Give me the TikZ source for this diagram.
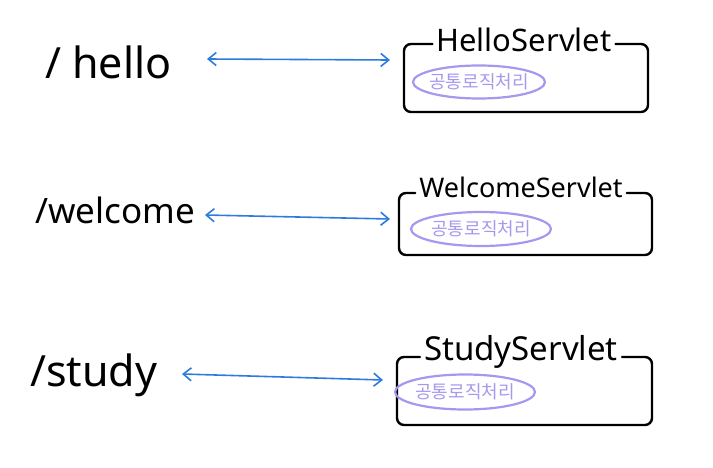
\documentclass[tikz,border=0pt]{standalone}
\usepackage{fontspec}
\setmainfont{Noto Sans}
\newfontfamily\kr{Noto Sans CJK KR}
\usetikzlibrary{arrows.meta,shapes.geometric}
\definecolor{arrowblue}{HTML}{2E7BE0}
\definecolor{lav}{HTML}{A797EE}
\tikzset{
  pathlbl/.style={anchor=west, inner sep=0pt},
  link/.style={draw=arrowblue, line width=1.6pt, {Straight Barb[length=8pt,width=13pt]}-{Straight Barb[length=8pt,width=13pt]}},
  title/.style={inner sep=4pt},
  frame/.style={draw=black, line width=2.4pt, rounded corners=7pt, line cap=round},
  common/.style={draw=lav, line width=2.2pt, ellipse, text=lav, font=\kr\fontsize{18}{20}\selectfont, minimum width=132pt, minimum height=33pt, inner xsep=-12pt, inner ysep=0pt}
}
\begin{document}
\begin{tikzpicture}[x=1pt,y=-1pt]
\useasboundingbox (0,0) rectangle (713,468);
% row 1
\node[pathlbl, font=\fontsize{43}{46}\selectfont] (p1) at (45,62) {/ hello};
\coordinate (a1l) at (207,59);
\coordinate (a1r) at (390,60);
\draw[link] (a1l) -- (a1r);
\node[title, font=\fontsize{31}{34}\selectfont] (t1) at (524,40) {HelloServlet};
\coordinate (b1tl) at (404,44);
\coordinate (b1br) at (648,112);
\draw[frame] (t1.west |- b1tl) -- (b1tl) -- (b1tl |- b1br) -- (b1br) -- (b1br |- b1tl) -- (t1.east |- b1tl);
\node[common] (c1) at (479,82) {공통로직처리};
% row 2
\node[pathlbl, font=\fontsize{35}{38}\selectfont] (p2) at (35,210) {/welcome};
\coordinate (a2l) at (205,215);
\coordinate (a2r) at (390,219);
\draw[link] (a2l) -- (a2r);
\node[title, font=\fontsize{27}{30}\selectfont] (t2) at (521,187) {WelcomeServlet};
\coordinate (b2tl) at (399,193);
\coordinate (b2br) at (652,255);
\draw[frame] (t2.west |- b2tl) -- (b2tl) -- (b2tl |- b2br) -- (b2br) -- (b2br |- b2tl) -- (t2.east |- b2tl);
\node[common, minimum width=140pt, minimum height=34pt] (c2) at (481,229) {공통로직처리};
% row 3
\node[pathlbl, font=\fontsize{43}{46}\selectfont] (p3) at (30,375) {/study};
\coordinate (a3l) at (182,374);
\coordinate (a3r) at (383,380);
\draw[link] (a3l) -- (a3r);
\node[title, font=\fontsize{33}{36}\selectfont] (t3) at (521,352) {StudyServlet};
\coordinate (b3tl) at (397,357);
\coordinate (b3br) at (652,425);
\draw[frame] (t3.west |- b3tl) -- (b3tl) -- (b3tl |- b3br) -- (b3br) -- (b3br |- b3tl) -- (t3.east |- b3tl);
\node[common, minimum width=140pt, minimum height=35pt] (c3) at (465,392) {공통로직처리};
\end{tikzpicture}
\end{document}
